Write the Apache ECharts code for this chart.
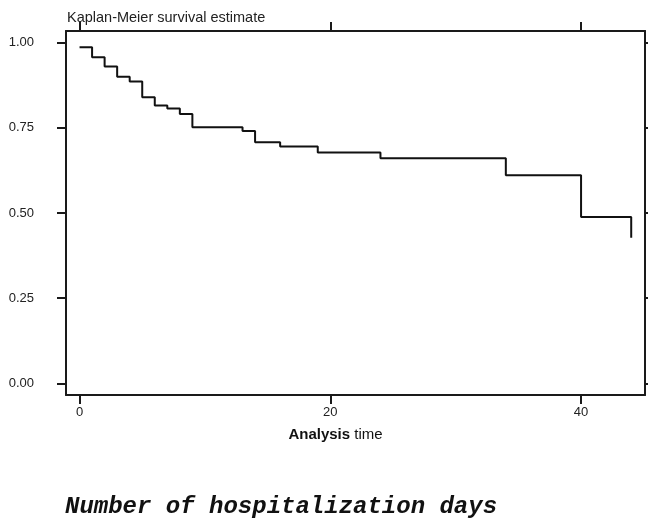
<!DOCTYPE html>
<html>
<head>
<meta charset="utf-8">
<script src="https://cdn.jsdelivr.net/npm/echarts@6/dist/echarts.min.js"></script>
<style>
  html, body { margin: 0; padding: 0; background: #fff; }
  #main { width: 648px; height: 519px; }
</style>
</head>
<body>
<div id="main"></div>
<script>
// Kaplan-Meier curve
var times = [0, 1, 2, 3, 4, 5, 6, 7, 8, 9, 13, 14, 16, 19, 24, 34, 40, 44];
var survival = [0.987, 0.957, 0.93, 0.90, 0.886, 0.84, 0.816, 0.807, 0.791, 0.752,
                0.741, 0.708, 0.695, 0.678, 0.661, 0.611, 0.488, 0.427];
var xTicks = [0, 20, 40];
var yTicks = [0, 0.25, 0.5, 0.75, 1];

var myChart = echarts.init(document.getElementById('main'));

var points = times.map(function (t, i) { return [t, survival[i]]; });

var lineCol = '#1a1a1a';
var font = 'Liberation Sans, Arial, sans-serif';

function xAx(pos, showLabel) {
  return {
    type: 'value',
    position: pos,
    min: -1.08,
    max: 45.1,
    axisLine: { show: true, onZero: false, lineStyle: { color: lineCol, width: 2 } },
    axisTick: { show: true, customValues: xTicks, length: 9, lineStyle: { color: lineCol, width: 2 } },
    axisLabel: { show: showLabel, customValues: xTicks, margin: 11, color: '#222', fontSize: 13, fontFamily: font },
    splitLine: { show: false }
  };
}

function yAx(pos, showLabel) {
  return {
    type: 'value',
    position: pos,
    min: -0.0344,
    max: 1.0344,
    axisLine: { show: true, onZero: false, lineStyle: { color: lineCol, width: 2 } },
    axisTick: { show: true, customValues: yTicks, length: 9, lineStyle: { color: lineCol, width: 2 } },
    axisLabel: {
      show: showLabel, customValues: yTicks, margin: 32, color: '#222', fontSize: 13, fontFamily: font,
      formatter: function (v) { return v.toFixed(2); }
    },
    splitLine: { show: false }
  };
}

var xBottom = xAx('bottom', true);
xBottom.name = '{b|Analysis} time';
xBottom.nameLocation = 'middle';
xBottom.nameGap = 32;
xBottom.nameTextStyle = {
  color: '#111', fontSize: 15, fontFamily: font,
  padding: [0, 40, 0, 0],
  rich: { b: { fontWeight: 'bold', fontSize: 15, fontFamily: font, color: '#111' } }
};

var option = {
  animation: false,
  title: [{
    text: 'Kaplan-Meier survival estimate',
    left: 62,
    top: 5,
    textStyle: { color: '#222', fontSize: 14.5, fontWeight: 'normal', fontFamily: font }
  }, {
    text: 'Number of hospitalization days',
    left: 60,
    top: 490,
    textStyle: { color: '#111', fontSize: 24, fontWeight: 'bold', fontStyle: 'italic', fontFamily: 'Liberation Mono, Courier New, monospace' }
  }],
  grid: { left: 66, right: 3, top: 31, bottom: 124, containLabel: false },
  xAxis: [xBottom, xAx('top', false)],
  yAxis: [yAx('left', true), yAx('right', false)],
  series: [{
    type: 'line',
    step: 'end',
    data: points,
    symbol: 'none',
    lineStyle: { color: '#111', width: 2 }
  }]
};

myChart.setOption(option);
</script>
</body>
</html>
